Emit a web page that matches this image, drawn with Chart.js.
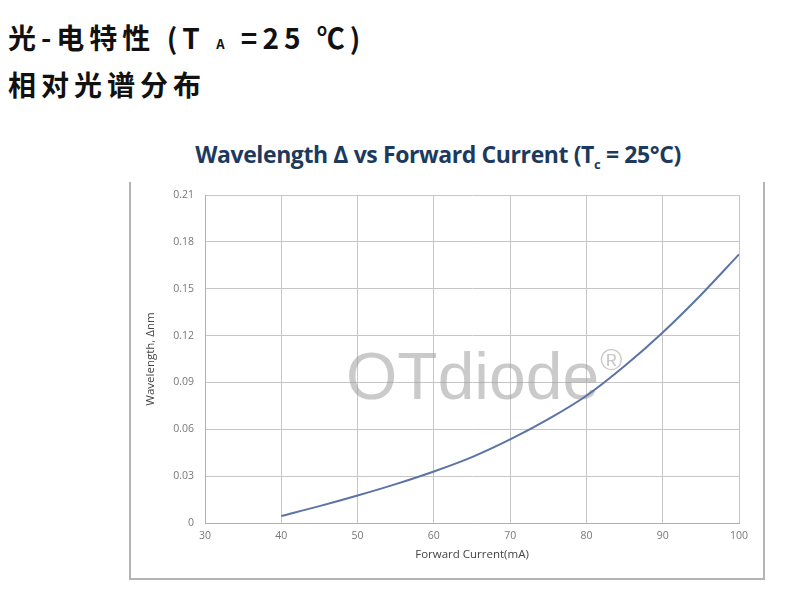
<!DOCTYPE html>
<html lang="zh">
<head>
    <meta charset="UTF-8">
    <title>Wavelength Δ vs Forward Current</title>
    <script src="https://cdn.jsdelivr.net/npm/chart.js"></script>
    <style>
        body { margin: 0; background: #fff; width: 800px; height: 602px; overflow: hidden; position: relative; }
        .head { position: absolute; left: 8px; font-family: "Noto Sans CJK SC", sans-serif; font-weight: 700; font-size: 28px; letter-spacing: 5px; color: #111; line-height: 1; }
        .head small { font-size: 13px; }
        #chartTitle { position: absolute; left: 0; width: 876px; top: 138px; text-align: center; font-family: "Open Sans", sans-serif; font-weight: 700; font-size: 23px; color: #1d3a5e; letter-spacing: -0.4px; }
        #chartTitle sub { font-size: 13px; vertical-align: -6px; }
        #frame { position: absolute; left: 129px; top: 182px; width: 632px; height: 396px; border: 2px solid #b4b4b4; border-top: none; }
        #wrap { position: absolute; left: 0; top: 0; width: 800px; height: 602px; }
    </style>
</head>
<body>
    <div class="head" style="top:23px">光-电特性 (T <small>A</small> =25 ℃)</div>
    <div class="head" style="top:70px">相对光谱分布</div>
    <div id="chartTitle">Wavelength Δ vs Forward Current (T<sub>c</sub> = 25°C)</div>
    <div id="frame"></div>
    <div id="wrap"><canvas id="grafico" width="800" height="602"></canvas></div>

    <script>
        // datos
        const corriente = [40, 45, 50, 55, 60, 65, 70, 75, 80, 85, 90, 95, 100];
        const longitudOnda = [0.0045, 0.0108, 0.0176, 0.0249, 0.033, 0.0422, 0.0535, 0.0665, 0.0815, 0.1005, 0.122, 0.146, 0.172];
        const ticksX = [30, 40, 50, 60, 70, 80, 90, 100];
        const ticksY = [0, 0.03, 0.06, 0.09, 0.12, 0.15, 0.18, 0.21];

        const puntos = corriente.map((c, i) => ({ x: c, y: longitudOnda[i] }));

        // marca de agua
        const marcaAgua = {
            id: "marcaAgua",
            beforeDatasetsDraw(chart) {
                const ctx = chart.ctx;
                ctx.save();
                ctx.fillStyle = "rgba(150,150,150,0.5)";
                ctx.textBaseline = "alphabetic";
                ctx.font = "66px 'Liberation Sans', Arial, sans-serif";
                ctx.fillText("OTdiode", 346, 399);
                const w = ctx.measureText("OTdiode").width;
                ctx.font = "30px 'Liberation Sans', Arial, sans-serif";
                ctx.fillText("®", 346 + w + 1, 370);
                ctx.restore();
            }
        };

        const fuenteTick = { family: "'Open Sans', sans-serif", size: 10.5 };
        const fuenteTitulo = { family: "'Open Sans', sans-serif", size: 11.5 };

        new Chart(document.getElementById("grafico"), {
            type: "line",
            data: {
                datasets: [{
                    data: puntos,
                    borderColor: "#5b73a6",
                    borderWidth: 2,
                    pointRadius: 0,
                    cubicInterpolationMode: "monotone",
                    fill: false
                }]
            },
            options: {
                responsive: false,
                animation: false,
                layout: { padding: { left: 140, top: 195, right: 61, bottom: 36 } },
                plugins: { legend: { display: false }, tooltip: { enabled: false } },
                scales: {
                    x: {
                        type: "linear",
                        min: 30, max: 100,
                        afterBuildTicks: s => { s.ticks = ticksX.map(v => ({ value: v })); },
                        afterFit: s => { s.height = 43; },
                        grid: { color: "#c6c6c6", lineWidth: 1, drawTicks: false },
                        border: { color: "#b0b0b0", width: 1 },
                        ticks: { color: "#777", font: fuenteTick, padding: 7 },
                        title: { display: true, text: "Forward Current(mA)", color: "#444", font: fuenteTitulo, padding: { top: 3 } }
                    },
                    y: {
                        type: "linear",
                        min: 0, max: 0.21,
                        afterBuildTicks: s => { s.ticks = ticksY.map(v => ({ value: v })); },
                        afterFit: s => { s.width = 65; },
                        grid: { color: "#c6c6c6", lineWidth: 1, drawTicks: false },
                        border: { color: "#b0b0b0", width: 1 },
                        ticks: { color: "#777", font: fuenteTick, padding: 11, callback: v => String(v) },
                        title: { display: true, text: "Wavelength, Δnm", color: "#444", font: fuenteTitulo, padding: { top: 4 } }
                    }
                }
            },
            plugins: [marcaAgua]
        });
    </script>
</body>
</html>
